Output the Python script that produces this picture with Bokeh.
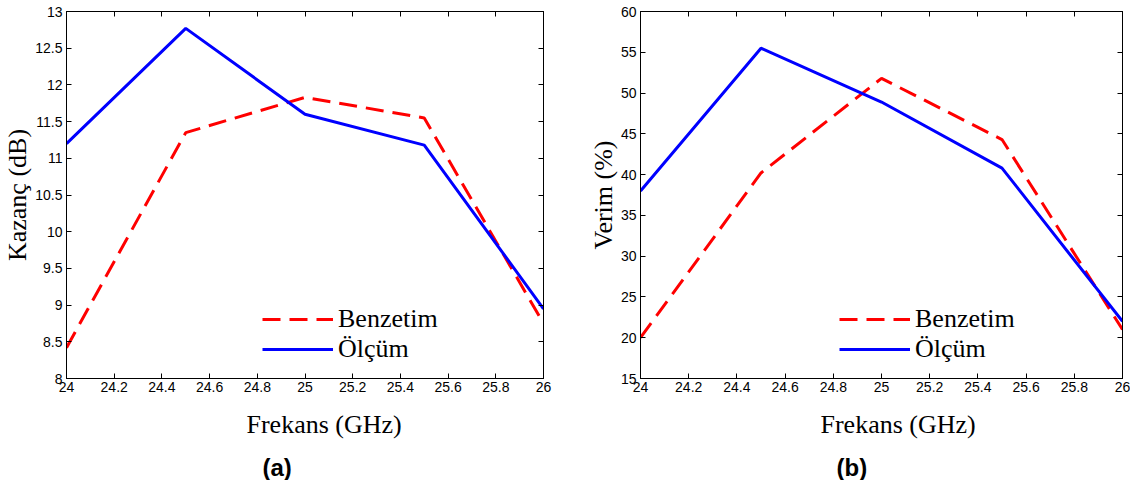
from bokeh.plotting import figure
from bokeh.layouts import row
from bokeh.models import LinearAxis, FixedTicker, Legend, LegendItem, Range1d, Title
from bokeh.embed import file_html
from bokeh.resources import INLINE

freq = [24.0, 24.5, 25.0, 25.5, 26.0]
gain_sim = [8.42, 11.35, 11.83, 11.55, 8.75]
gain_meas = [11.2, 12.77, 11.6, 11.18, 8.95]
eff_sim = [20.0, 40.2, 51.8, 44.3, 21.0]
eff_meas = [38.0, 55.5, 48.9, 40.8, 22.0]

x_ticks = [24.0, 24.2, 24.4, 24.6, 24.8, 25.0, 25.2, 25.4, 25.6, 25.8, 26.0]
x_tick_labels = ["24", "24.2", "24.4", "24.6", "24.8", "25", "25.2", "25.4", "25.6", "25.8", "26"]
gain_ticks = [8, 8.5, 9, 9.5, 10, 10.5, 11, 11.5, 12, 12.5, 13]
eff_ticks = [15, 20, 25, 30, 35, 40, 45, 50, 55, 60]

SERIF = "Liberation Serif"
SANS = "Liberation Sans"


def style_axis(ax, ticks, labels=True, overrides=None):
    ax.ticker = FixedTicker(ticks=ticks)
    ax.major_tick_in = 5
    ax.major_tick_out = 0
    ax.minor_tick_line_color = None
    ax.axis_line_color = "black"
    ax.major_tick_line_color = "black"
    if labels:
        ax.major_label_text_font = SANS
        ax.major_label_text_font_size = "14px"
        ax.major_label_text_color = "black"
        ax.major_label_standoff = 3
        if overrides:
            ax.major_label_overrides = overrides
    else:
        ax.major_label_overrides = {t: "" for t in ticks}
        ax.major_label_standoff = 0


def make_panel(sim, meas, yr, yticks, ylabel, caption, width, bl, br, leg_x):
    p = figure(width=width, height=480, output_backend="svg", toolbar_location=None,
               x_range=Range1d(24, 26), y_range=Range1d(*yr),
               min_border_left=bl, min_border_right=br, min_border_top=11, min_border_bottom=100)
    p.outline_line_color = "black"
    p.xgrid.visible = False
    p.ygrid.visible = False
    p.background_fill_color = "white"
    p.border_fill_color = "white"

    style_axis(p.xaxis[0], x_ticks, overrides={t: l for t, l in zip(x_ticks, x_tick_labels)})
    style_axis(p.yaxis[0], yticks)
    p.yaxis[0].major_label_standoff = 4
    p.yaxis[0].axis_label = ylabel
    p.yaxis[0].axis_label_text_font = SERIF
    p.yaxis[0].axis_label_text_font_size = "26px"
    p.yaxis[0].axis_label_text_font_style = "normal"
    p.yaxis[0].axis_label_text_color = "black"
    p.yaxis[0].axis_label_standoff = 0

    top = LinearAxis()
    style_axis(top, x_ticks, labels=False)
    p.add_layout(top, "above")
    right = LinearAxis()
    style_axis(right, yticks, labels=False)
    p.add_layout(right, "right")

    r_sim = p.line(freq, sim, line_color="#FF0000", line_width=3, line_dash="18 9")
    r_meas = p.line(freq, meas, line_color="#0000FF", line_width=3)

    leg = Legend(items=[LegendItem(label="Benzetim", renderers=[r_sim]),
                        LegendItem(label="Ölçüm", renderers=[r_meas])],
                 location=(leg_x, 14))
    leg.border_line_alpha = 0
    leg.background_fill_alpha = 0
    leg.padding = 0
    leg.margin = 0
    leg.spacing = -6
    leg.glyph_width = 71
    leg.glyph_height = 26
    leg.label_height = 26
    leg.label_standoff = 5
    leg.label_text_font = SERIF
    leg.label_text_font_size = "26px"
    leg.label_text_color = "black"
    p.add_layout(leg, "center")

    t1 = Title(text="Frekans (GHz)", align="left", offset=180, text_font=SERIF,
               text_font_size="26px", text_font_style="normal", text_color="black", standoff=26)
    p.add_layout(t1, "below")
    t2 = Title(text=caption, align="left", offset=196, text_font=SANS,
               text_font_size="24px", text_font_style="bold", text_color="black", standoff=0)
    p.add_layout(t2, "below")
    return p


p1 = make_panel(gain_sim, gain_meas, (8, 13), gain_ticks, "Kazanç (dB)", "(a)", 585, 64, 42, 196)
p2 = make_panel(eff_sim, eff_meas, (15, 60), eff_ticks, "Verim (%)", "(b)", 545, 50, 8, 199)

layout = row(p1, p2)
open("out.html", "w").write(file_html(layout, INLINE))
